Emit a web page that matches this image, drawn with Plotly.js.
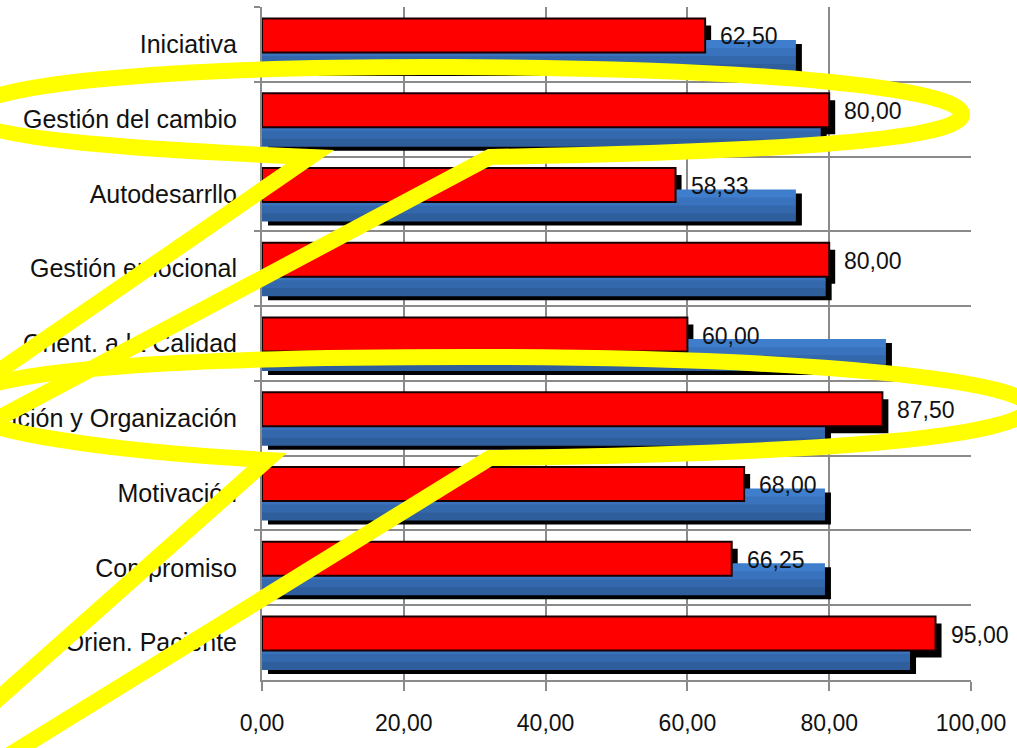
<!DOCTYPE html>
<html>
<head>
<meta charset="utf-8">
<script src="https://cdn.plot.ly/plotly-3.0.1.min.js"></script>
<style>html,body{margin:0;padding:0;background:#fff;}#chart{width:1017px;height:748px;}</style>
</head>
<body>
<div id="chart"></div>
<script>
// ---- data ----
const categories = ['Iniciativa','Gestión del cambio','Autodesarrllo','Gestión emocional','Orient. a la Calidad','Planificación y Organización','Motivación','Compromiso','Orien. Paciente'];
const redValues  = [62.50, 80.00, 58.33, 80.00, 60.00, 87.50, 68.00, 66.25, 95.00];
const blueValues = [75.3, 78.8, 75.3, 79.5, 88.0, 79.4, 79.4, 79.4, 91.4];
const xTickVals = [0, 20, 40, 60, 80, 100];

// ---- style constants ----
const FONT = 'Liberation Sans, Arial, sans-serif';
const W = 1017, H = 748;
const M = {l: 262, r: 46, t: 7, b: 68};
const pw = W - M.l - M.r, ph = H - M.t - M.b;
const catPx = ph / categories.length;

const redOff = -26/catPx, redW = 34/catPx;
const blueOff = -4.5/catPx, blueW = 32/catPx;
const shX = 6/(pw/100);

const traces = [];
// blue shadow
traces.push({type:'bar', orientation:'h', y:categories, x:blueValues, base:shX,
  offset: blueOff + 4/catPx, width: blueW, marker:{color:'#000', line:{width:0}}, hoverinfo:'skip'});
// red shadow
traces.push({type:'bar', orientation:'h', y:categories, x:redValues, base:shX,
  offset: redOff + 7/catPx, width: redW, marker:{color:'#000', line:{width:0}}, hoverinfo:'skip'});
// blue bars as gradient slices (top to bottom)
const blueCols = ['#3e7ecc','#3973bd','#3468ad','#2f5e9c'];
const nS = blueCols.length;
blueCols.forEach((c,i)=>{
  const extra = i < nS-1 ? 0.015 : 0;
  traces.push({type:'bar', orientation:'h', y:categories, x:blueValues,
    offset: blueOff + i*blueW/nS, width: blueW/nS + extra, marker:{color:c, line:{width:0}}});
});
// red bars
traces.push({type:'bar', orientation:'h', y:categories, x:redValues,
  offset: redOff, width: redW, marker:{color:'#ff0000', line:{color:'#1a0000', width:2}}});

const annotations = redValues.map((v,i)=>({
  x: v, y: categories[i], xref:'x', yref:'y', xanchor:'left', yanchor:'middle',
  xshift: 13, yshift: 8, showarrow:false,
  text: v.toFixed(2).replace('.', ','), font:{family:FONT, size:23, color:'#111'}
}));

// yellow hand-drawn marks, pixel coords converted to paper coords
function P(x,y){ return ((x - M.l)/pw).toFixed(4) + ',' + ((H - M.b - y)/ph).toFixed(4); }
const path1 = 'M' + P(-20,428) + ' L' + P(490,157) +
  ' C' + P(750,152) + ' ' + P(958,142) + ' ' + P(962,115) +
  ' C' + P(965,88) + ' ' + P(760,68) + ' ' + P(450,67) +
  ' C' + P(150,66) + ' ' + P(-30,86) + ' ' + P(-30,113) +
  ' C' + P(-30,140) + ' ' + P(150,150) + ' ' + P(310,157) +
  ' L' + P(-20,384);
const path2 = 'M' + P(-20,773) + ' L' + P(490,458) +
  ' C' + P(720,455) + ' ' + P(1000,445) + ' ' + P(1030,410) +
  ' C' + P(1040,380) + ' ' + P(800,358) + ' ' + P(500,357) +
  ' C' + P(200,356) + ' ' + P(-40,368) + ' ' + P(-40,405) +
  ' C' + P(-40,432) + ' ' + P(120,452) + ' ' + P(267,460) +
  ' L' + P(-20,715);
const shapes = [path1, path2].map(p=>({type:'path', xref:'paper', yref:'paper', path:p,
  line:{color:'#ffff00', width:16}, layer:'above'}));

const layout = {
  width: W, height: H, margin: M, paper_bgcolor:'#fff', plot_bgcolor:'#fff',
  showlegend:false, barmode:'overlay', separators: ',.',
  font:{family:FONT, color:'#111'},
  xaxis:{range:[0,100], tickvals:xTickVals, tickformat:'.2f', showgrid:true, gridcolor:'#8a8a8a', gridwidth:2,
    showline:true, linecolor:'#8a8a8a', linewidth:2, ticks:'outside', ticklen:9, tickwidth:2, tickcolor:'#8a8a8a',
    tickfont:{family:FONT, size:23, color:'#111'}, ticklabelstandoff:12, zeroline:false, fixedrange:true},
  yaxis:{type:'category', categoryorder:'array', categoryarray:categories, autorange:false, range:[categories.length-0.5,-0.5],
    tickson:'boundaries', showgrid:true, gridcolor:'#8a8a8a', gridwidth:2,
    showline:true, linecolor:'#8a8a8a', linewidth:2, ticks:'outside', ticklen:6, tickwidth:2, tickcolor:'#8a8a8a',
    tickfont:{family:FONT, size:25, color:'#111'}, ticklabelstandoff:18, fixedrange:true},
  annotations: annotations, shapes: shapes
};
Plotly.newPlot('chart', traces, layout, {displayModeBar:false, staticPlot:true});
</script>
</body>
</html>
